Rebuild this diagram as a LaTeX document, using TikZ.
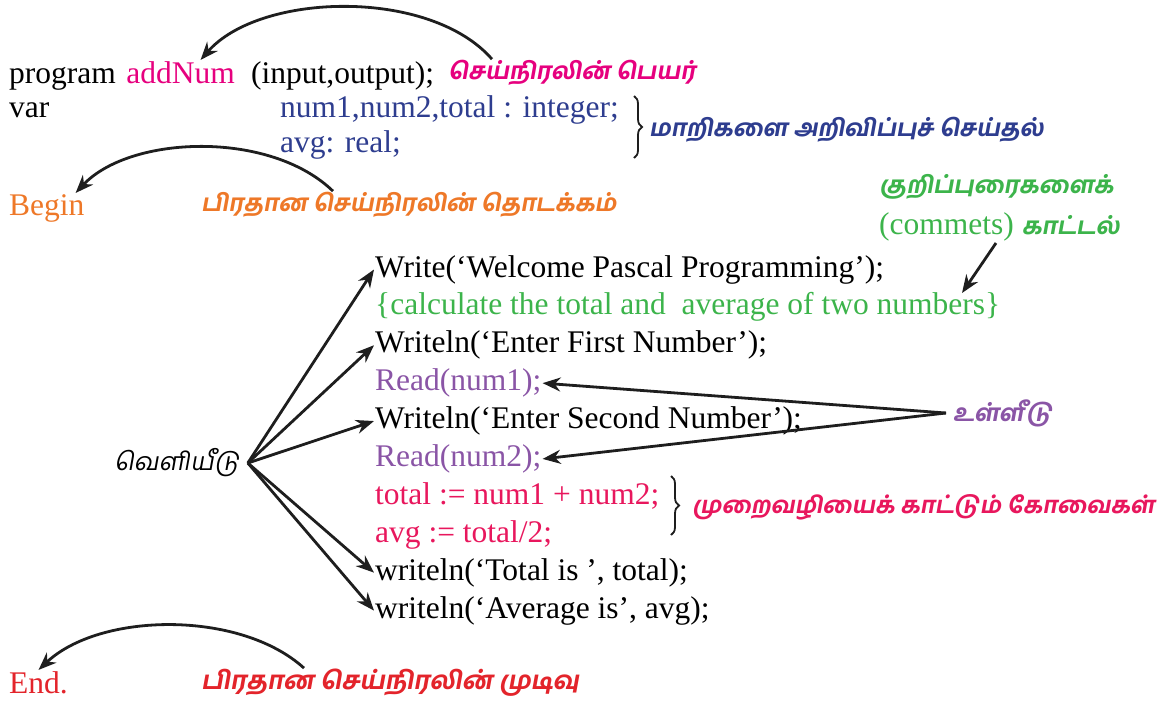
\documentclass[tikz,border=0pt]{standalone}
\usepackage{fontspec}
\setmainfont{Liberation Serif}
\newfontfamily\tamil[Script=Tamil,FakeSlant=0.18]{Hind Madurai}
\newfontfamily\tamilbf[Script=Tamil,FakeSlant=0.18]{Hind Madurai Bold}
\usetikzlibrary{arrows.meta,decorations.pathreplacing}
\definecolor{pnk}{RGB}{230,0,126}
\definecolor{navy}{RGB}{46,61,143}
\definecolor{orng}{RGB}{238,120,40}
\definecolor{grn}{RGB}{60,180,75}
\definecolor{purp}{RGB}{138,85,166}
\definecolor{crim}{RGB}{232,23,93}
\definecolor{redd}{RGB}{227,36,43}
\definecolor{ink}{RGB}{30,30,30}
\begin{document}
\begin{tikzpicture}[x=1pt,y=-1pt,
  code/.style={anchor=base west,inner sep=1pt,font=\fontsize{31.5}{38}\selectfont},
  tlabel/.style={anchor=west,inner sep=1pt,font=\tamilbf\fontsize{23.5}{30}\selectfont},
  arr/.style={draw=ink,line width=2.8pt,-{Stealth[length=18pt,width=14pt]}},
  curly/.style={draw=ink,decorate,decoration={brace,amplitude=8pt},line width=1.8pt}]
\useasboundingbox (0,0) rectangle (1173,705);

% header and declarations
\node[code] (prog) at (8,83) {program};
\node[code,text=pnk] (addnum) at ([xshift=8pt]prog.base east) {addNum};
\node[code] (io) at ([xshift=14pt]addnum.base east) {(input,output);};
\node[tlabel,text=pnk] (name) at (447,73) {செய்நிரலின் பெயர்};
\node[code] (var) at (8,117) {var};
\node[code,text=navy] (decl1) at (279,117) {num1,num2,total : integer;};
\node[code,text=navy] (decl2) at (279,152) {avg: real;};
\draw[curly] (634,96) -- (634,158);
\node[tlabel,text=navy] (decl) at (648,130) {மாறிகளை அறிவிப்புச் செய்தல்};

% program start
\node[code,text=orng] (begin) at (8,215) {Begin};
\node[tlabel,text=orng] (beginlbl) at (200,205) {பிரதான செய்நிரலின் தொடக்கம்};

% comment label
\node[anchor=north west,inner sep=1pt,align=left,text=grn,
      font=\fontsize{31.5}{41}\selectfont] (cmt) at (878,173)
  {{\tamilbf\fontsize{23.5}{30}\selectfont குறிப்புரைகளைக்}\\
   (commets) {\tamilbf\fontsize{23.5}{30}\selectfont காட்டல்}};
\coordinate (cmtfrom) at (996,243);
\coordinate (cmtto) at (962,293);

% statements
\node[code] (w1) at (374,277) {Write(‘Welcome Pascal Programming’);};
\node[code,text=grn] (calc) at (374,314.9) {\{calculate the total and\ \ average of two numbers\}};
\node[code] (w2) at (374,352.8) {Writeln(‘Enter First Number’);};
\node[code,text=purp] (r1) at (374,390.7) {Read(num1);};
\node[code] (w3) at (374,428.6) {Writeln(‘Enter Second Number’);};
\node[code,text=purp] (r2) at (374,466.5) {Read(num2);};
\node[code,text=crim] (s1) at (374,504.4) {total := num1 + num2;};
\node[code,text=crim] (s2) at (374,542.3) {avg := total/2;};
\node[code] (w4) at (374,580.2) {writeln(‘Total is ’, total);};
\node[code] (w5) at (374,618.1) {writeln(‘Average is’, avg);};
\draw[curly] (671,476) -- (671,535);
\node[tlabel,text=crim,font=\tamilbf\fontsize{23}{30}\selectfont] (proc) at (691,507) {முறைவழியைக் காட்டும் கோவைகள்};

% output / input labels
\node[tlabel,font=\tamil\fontsize{25}{30}\selectfont] (out) at (113,463) {வெளியீடு};
\node[tlabel,text=purp] (in) at (952,413) {உள்ளீடு};

% program end
\node[code,text=redd] (end) at (8,693) {End.};
\node[tlabel,text=redd,font=\tamilbf\fontsize{25}{30}\selectfont] (endlbl) at (200,683) {பிரதான செய்நிரலின் முடிவு};

% curved pointers from the labels
\draw[arr] ([xshift=45pt]name.north west) .. controls (430,-12) and (260,-8) .. ([xshift=20pt]addnum.north);
\draw[arr] ([xshift=133pt]beginlbl.north west) .. controls (270,130) and (130,135) .. ([xshift=-10pt]begin.north east);
\draw[arr] ([xshift=104pt]endlbl.north west) .. controls (240,610) and (100,612) .. (end.north);

% straight pointers
\draw[arr] (cmtfrom) -- (cmtto);
\foreach \t in {w1,w2,w3,w4,w5}
  \draw[arr] ([xshift=8pt]out.east) -- (\t.west);
\draw[arr] ([xshift=-6pt]in.west) -- (r1.east);
\draw[arr] ([xshift=-6pt]in.west) -- (r2.east);
\end{tikzpicture}
\end{document}
